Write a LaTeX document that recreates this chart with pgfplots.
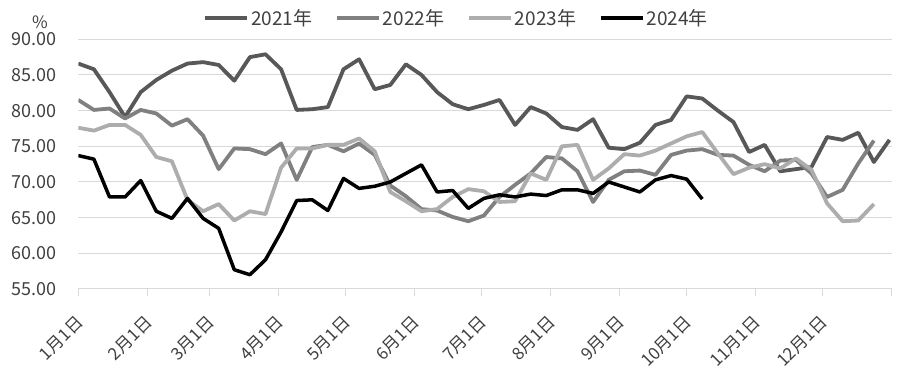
\documentclass[border=0pt]{standalone}
\usepackage{pgfplots}
\pgfplotsset{compat=1.18}
\usepackage{fontspec}
\newfontfamily\cjk{Noto Sans CJK SC}
\definecolor{cA}{HTML}{585858}
\definecolor{cB}{HTML}{808080}
\definecolor{cC}{HTML}{ADADAD}
\definecolor{txt}{HTML}{404040}
\definecolor{grd}{HTML}{D9D9D9}
\begin{document}
\begin{tikzpicture}
\path[use as bounding box] (-78.3pt,-88pt) rectangle (821.7pt,289pt);
\begin{axis}[
  at={(0pt,0pt)}, anchor=south west,
  scale only axis, width=813.4pt, height=249.7pt,
  xmin=0, xmax=365, ymin=55, ymax=90,
  axis x line*=bottom, axis y line*=left,
  y axis line style={draw=none},
  x axis line style={draw=grd, line width=1pt},
  ytick={55,60,...,90},
  ytick style={draw=none},
  ymajorgrids, grid style={grd, line width=1pt},
  xtick={0,31,59,90,120,151,181,212,243,273,304,334,365},
  xticklabels={1月1日,2月1日,3月1日,4月1日,5月1日,6月1日,7月1日,8月1日,9月1日,10月1日,11月1日,12月1日,{}},
  xtick style={draw=grd, line width=1pt},
  tick align=outside, major tick length=7pt,
  xticklabel style={xshift=4pt, yshift=-21pt, rotate=45, anchor=east, font=\cjk\fontsize{17}{20}\selectfont, text=txt},
  yticklabel style={font=\cjk\fontsize{18}{20}\selectfont, text=txt, /pgf/number format/.cd, fixed, fixed zerofill, precision=2, assume math mode=true},
  yticklabel shift=11pt,
  legend style={draw=none, fill=none, at={(0.465,1.085)}, anchor=center, legend columns=4,
    font=\cjk\fontsize{19}{22}\selectfont, text=txt,
    /tikz/every even column/.append style={column sep=21pt}},
  legend image code/.code={\draw[#1] (0pt,0pt) -- (42pt,0pt);},
  every axis plot/.append style={line width=3.8pt, line join=round},
]
\addplot[cA] coordinates {
(0,86.6)(7,85.8)(14,82.6)(21,79.1)(28,82.6)(35,84.3)(42,85.6)(49,86.6)(56,86.8)(63,86.4)
(70,84.2)(77,87.5)(84,87.9)(91,85.8)(98,80.1)(105,80.2)(112,80.5)(119,85.8)(126,87.2)(133,83.0)
(140,83.6)(147,86.5)(154,85.0)(161,82.6)(168,80.9)(175,80.2)(182,80.8)(189,81.5)(196,78.0)(203,80.5)
(210,79.6)(217,77.7)(224,77.3)(231,78.8)(238,74.8)(245,74.6)(252,75.5)(259,78.0)(266,78.7)(273,82.0)
(280,81.7)(287,80.0)(294,78.4)(301,74.2)(308,75.2)(315,71.5)(322,71.8)(329,72.1)(336,76.3)(343,75.9)
(350,76.9)(357,72.8)(364,75.9)};
\addlegendentry{2021年}
\addplot[cB] coordinates {
(0,81.5)(7,80.1)(14,80.3)(21,78.9)(28,80.1)(35,79.6)(42,77.9)(49,78.8)(56,76.5)(63,71.8)
(70,74.7)(77,74.6)(84,73.9)(91,75.4)(98,70.3)(105,74.9)(112,75.2)(119,74.3)(126,75.4)(133,73.8)
(140,69.5)(147,68.0)(154,66.2)(161,66.0)(168,65.1)(175,64.5)(182,65.3)(189,67.9)(196,69.6)(203,71.2)
(210,73.5)(217,73.3)(224,71.5)(231,67.2)(238,70.3)(245,71.5)(252,71.6)(259,71.0)(266,73.8)(273,74.4)
(280,74.6)(287,73.8)(294,73.7)(301,72.4)(308,71.5)(315,73.0)(322,73.1)(329,71.2)(336,67.9)(343,68.9)
(350,72.6)(357,75.8)};
\addlegendentry{2022年}
\addplot[cC] coordinates {
(0,77.6)(7,77.2)(14,78.0)(21,78.0)(28,76.6)(35,73.5)(42,72.9)(49,67.5)(56,65.9)(63,66.9)
(70,64.6)(77,65.9)(84,65.5)(91,72.0)(98,74.7)(105,74.7)(112,75.2)(119,75.2)(126,76.1)(133,74.3)
(140,68.6)(147,67.3)(154,65.9)(161,66.2)(168,67.9)(175,69.0)(182,68.7)(189,67.2)(196,67.3)(203,71.2)
(210,70.3)(217,75.0)(224,75.2)(231,70.3)(238,71.9)(245,73.9)(252,73.7)(259,74.4)(266,75.4)(273,76.4)
(280,77.0)(287,74.0)(294,71.1)(301,72.0)(308,72.5)(315,71.9)(322,73.3)(329,71.7)(336,67.0)(343,64.5)
(350,64.6)(357,66.9)};
\addlegendentry{2023年}
\addplot[black, line width=3.5pt] coordinates {
(0,73.7)(7,73.2)(14,67.9)(21,67.9)(28,70.2)(35,65.9)(42,64.9)(49,67.7)(56,64.9)(63,63.5)
(70,57.7)(77,57.0)(84,59.1)(91,63.0)(98,67.4)(105,67.5)(112,66.0)(119,70.5)(126,69.1)(133,69.4)
(140,70.0)(147,71.2)(154,72.4)(161,68.6)(168,68.8)(175,66.3)(182,67.7)(189,68.2)(196,67.9)(203,68.3)
(210,68.1)(217,68.9)(224,68.9)(231,68.4)(238,70.0)(245,69.3)(252,68.6)(259,70.3)(266,70.9)(273,70.4)
(280,67.6)};
\addlegendentry{2024年}
\end{axis}
\node[font=\cjk\fontsize{17}{20}\selectfont, text=txt] at (-38.3pt,266.5pt) {\%};
\end{tikzpicture}
\end{document}
